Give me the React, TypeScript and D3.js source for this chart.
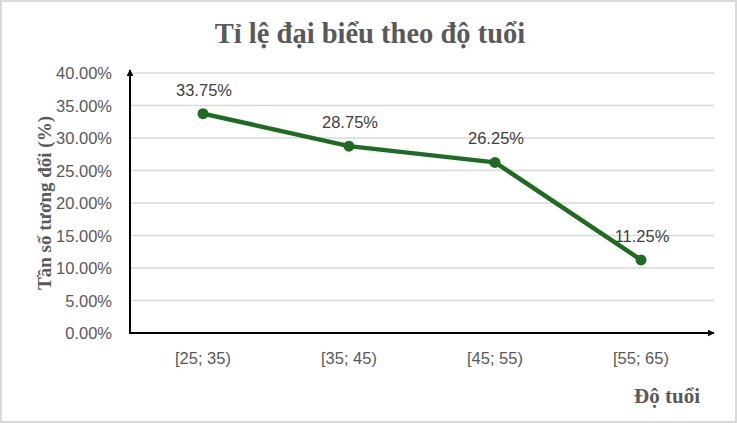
import React, { useEffect, useRef } from "react";
import * as d3 from "d3";

const categories = ["[25; 35)", "[35; 45)", "[45; 55)", "[55; 65)"];
const values = [33.75, 28.75, 26.25, 11.25];
const yTicks = [0, 5, 10, 15, 20, 25, 30, 35, 40];

const W = 737;
const H = 423;

const SANS = "'Liberation Sans', Arial, sans-serif";
const SERIF = "'Liberation Serif', 'Times New Roman', serif";

const App = () => {
  const ref = useRef(null);

  useEffect(() => {
    const svg = d3.select(ref.current);
    svg.selectAll("*").remove();

    const left = 130, right = 714, top = 73, bottom = 333;

    const x = d3.scaleBand().domain(categories).range([left, right]);
    const y = d3.scaleLinear().domain([0, 40]).range([bottom, top]);

    // frame
    svg.append("rect")
      .attr("x", 1).attr("y", 1).attr("width", W - 2).attr("height", H - 2)
      .attr("fill", "#fff").attr("stroke", "#d9d9d9").attr("stroke-width", 2);

    const defs = svg.append("defs");
    defs.append("marker")
      .attr("id", "arrow")
      .attr("viewBox", "0 0 10 10")
      .attr("refX", 9).attr("refY", 5)
      .attr("markerWidth", 7).attr("markerHeight", 7)
      .attr("markerUnits", "userSpaceOnUse")
      .attr("orient", "auto")
      .append("path").attr("d", "M0,0 L10,5 L0,10 z").attr("fill", "#000");

    // title
    svg.append("text")
      .attr("x", 370).attr("y", 43)
      .attr("text-anchor", "middle")
      .attr("font-family", SERIF)
      .attr("font-weight", "bold").attr("font-size", 28.5)
      .attr("fill", "#595959")
      .text("Tỉ lệ đại biểu theo độ tuổi");

    // gridlines
    svg.append("g").selectAll("line")
      .data(yTicks.filter((t) => t > 0))
      .enter().append("line")
      .attr("x1", left).attr("x2", right)
      .attr("y1", (d) => y(d)).attr("y2", (d) => y(d))
      .attr("stroke", "#d9d9d9").attr("stroke-width", 1.3);

    // y tick labels
    svg.append("g").selectAll("text")
      .data(yTicks)
      .enter().append("text")
      .attr("x", 112).attr("y", (d) => y(d) + 6)
      .attr("text-anchor", "end")
      .attr("font-family", SANS)
      .attr("font-size", 16.5).attr("fill", "#595959")
      .text((d) => d.toFixed(2) + "%");

    // x tick labels
    svg.append("g").selectAll("text")
      .data(categories)
      .enter().append("text")
      .attr("x", (d) => (x(d) as number) + x.bandwidth() / 2)
      .attr("y", 364)
      .attr("text-anchor", "middle")
      .attr("font-family", SANS)
      .attr("font-size", 16.5).attr("fill", "#595959")
      .text((d) => d);

    // axes with arrows
    svg.append("line")
      .attr("x1", left).attr("x2", left).attr("y1", bottom + 1).attr("y2", top - 3)
      .attr("stroke", "#000").attr("stroke-width", 2)
      .attr("marker-end", "url(#arrow)");
    svg.append("line")
      .attr("x1", left - 1).attr("x2", right).attr("y1", bottom).attr("y2", bottom)
      .attr("stroke", "#000").attr("stroke-width", 2)
      .attr("marker-end", "url(#arrow)");

    // axis titles
    svg.append("text")
      .attr("transform", `translate(51, ${(top + bottom) / 2}) rotate(-90)`)
      .attr("text-anchor", "middle")
      .attr("font-family", SERIF)
      .attr("font-weight", "bold").attr("font-size", 19)
      .attr("fill", "#595959")
      .text("Tần số tương đối (%)");
    svg.append("text")
      .attr("x", 700).attr("y", 403)
      .attr("text-anchor", "end")
      .attr("font-family", SERIF)
      .attr("font-weight", "bold").attr("font-size", 21)
      .attr("fill", "#595959")
      .text("Độ tuổi");

    const pts = categories.map((c, i) => ({ c, v: values[i] }));
    const cx = (d: any) => (x(d.c) as number) + x.bandwidth() / 2;

    const line = d3.line<any>().x(cx).y((d) => y(d.v));
    svg.append("path")
      .datum(pts)
      .attr("d", line)
      .attr("fill", "none")
      .attr("stroke", "#1e6b22").attr("stroke-width", 4.5)
      .attr("stroke-linejoin", "round");

    svg.append("g").selectAll("circle")
      .data(pts)
      .enter().append("circle")
      .attr("cx", cx).attr("cy", (d) => y(d.v)).attr("r", 5.5)
      .attr("fill", "#1e6b22");

    svg.append("g").selectAll("text")
      .data(pts)
      .enter().append("text")
      .attr("x", (d) => cx(d) + 1).attr("y", (d) => y(d.v) - 18)
      .attr("text-anchor", "middle")
      .attr("font-family", SANS)
      .attr("font-size", 16.5).attr("fill", "#404040")
      .text((d) => d.v.toFixed(2) + "%");
  }, []);

  return (
    <svg
      ref={ref}
      width={W}
      height={H}
      style={{ position: "absolute", left: 0, top: 0, display: "block" }}
    />
  );
};

export default App;
